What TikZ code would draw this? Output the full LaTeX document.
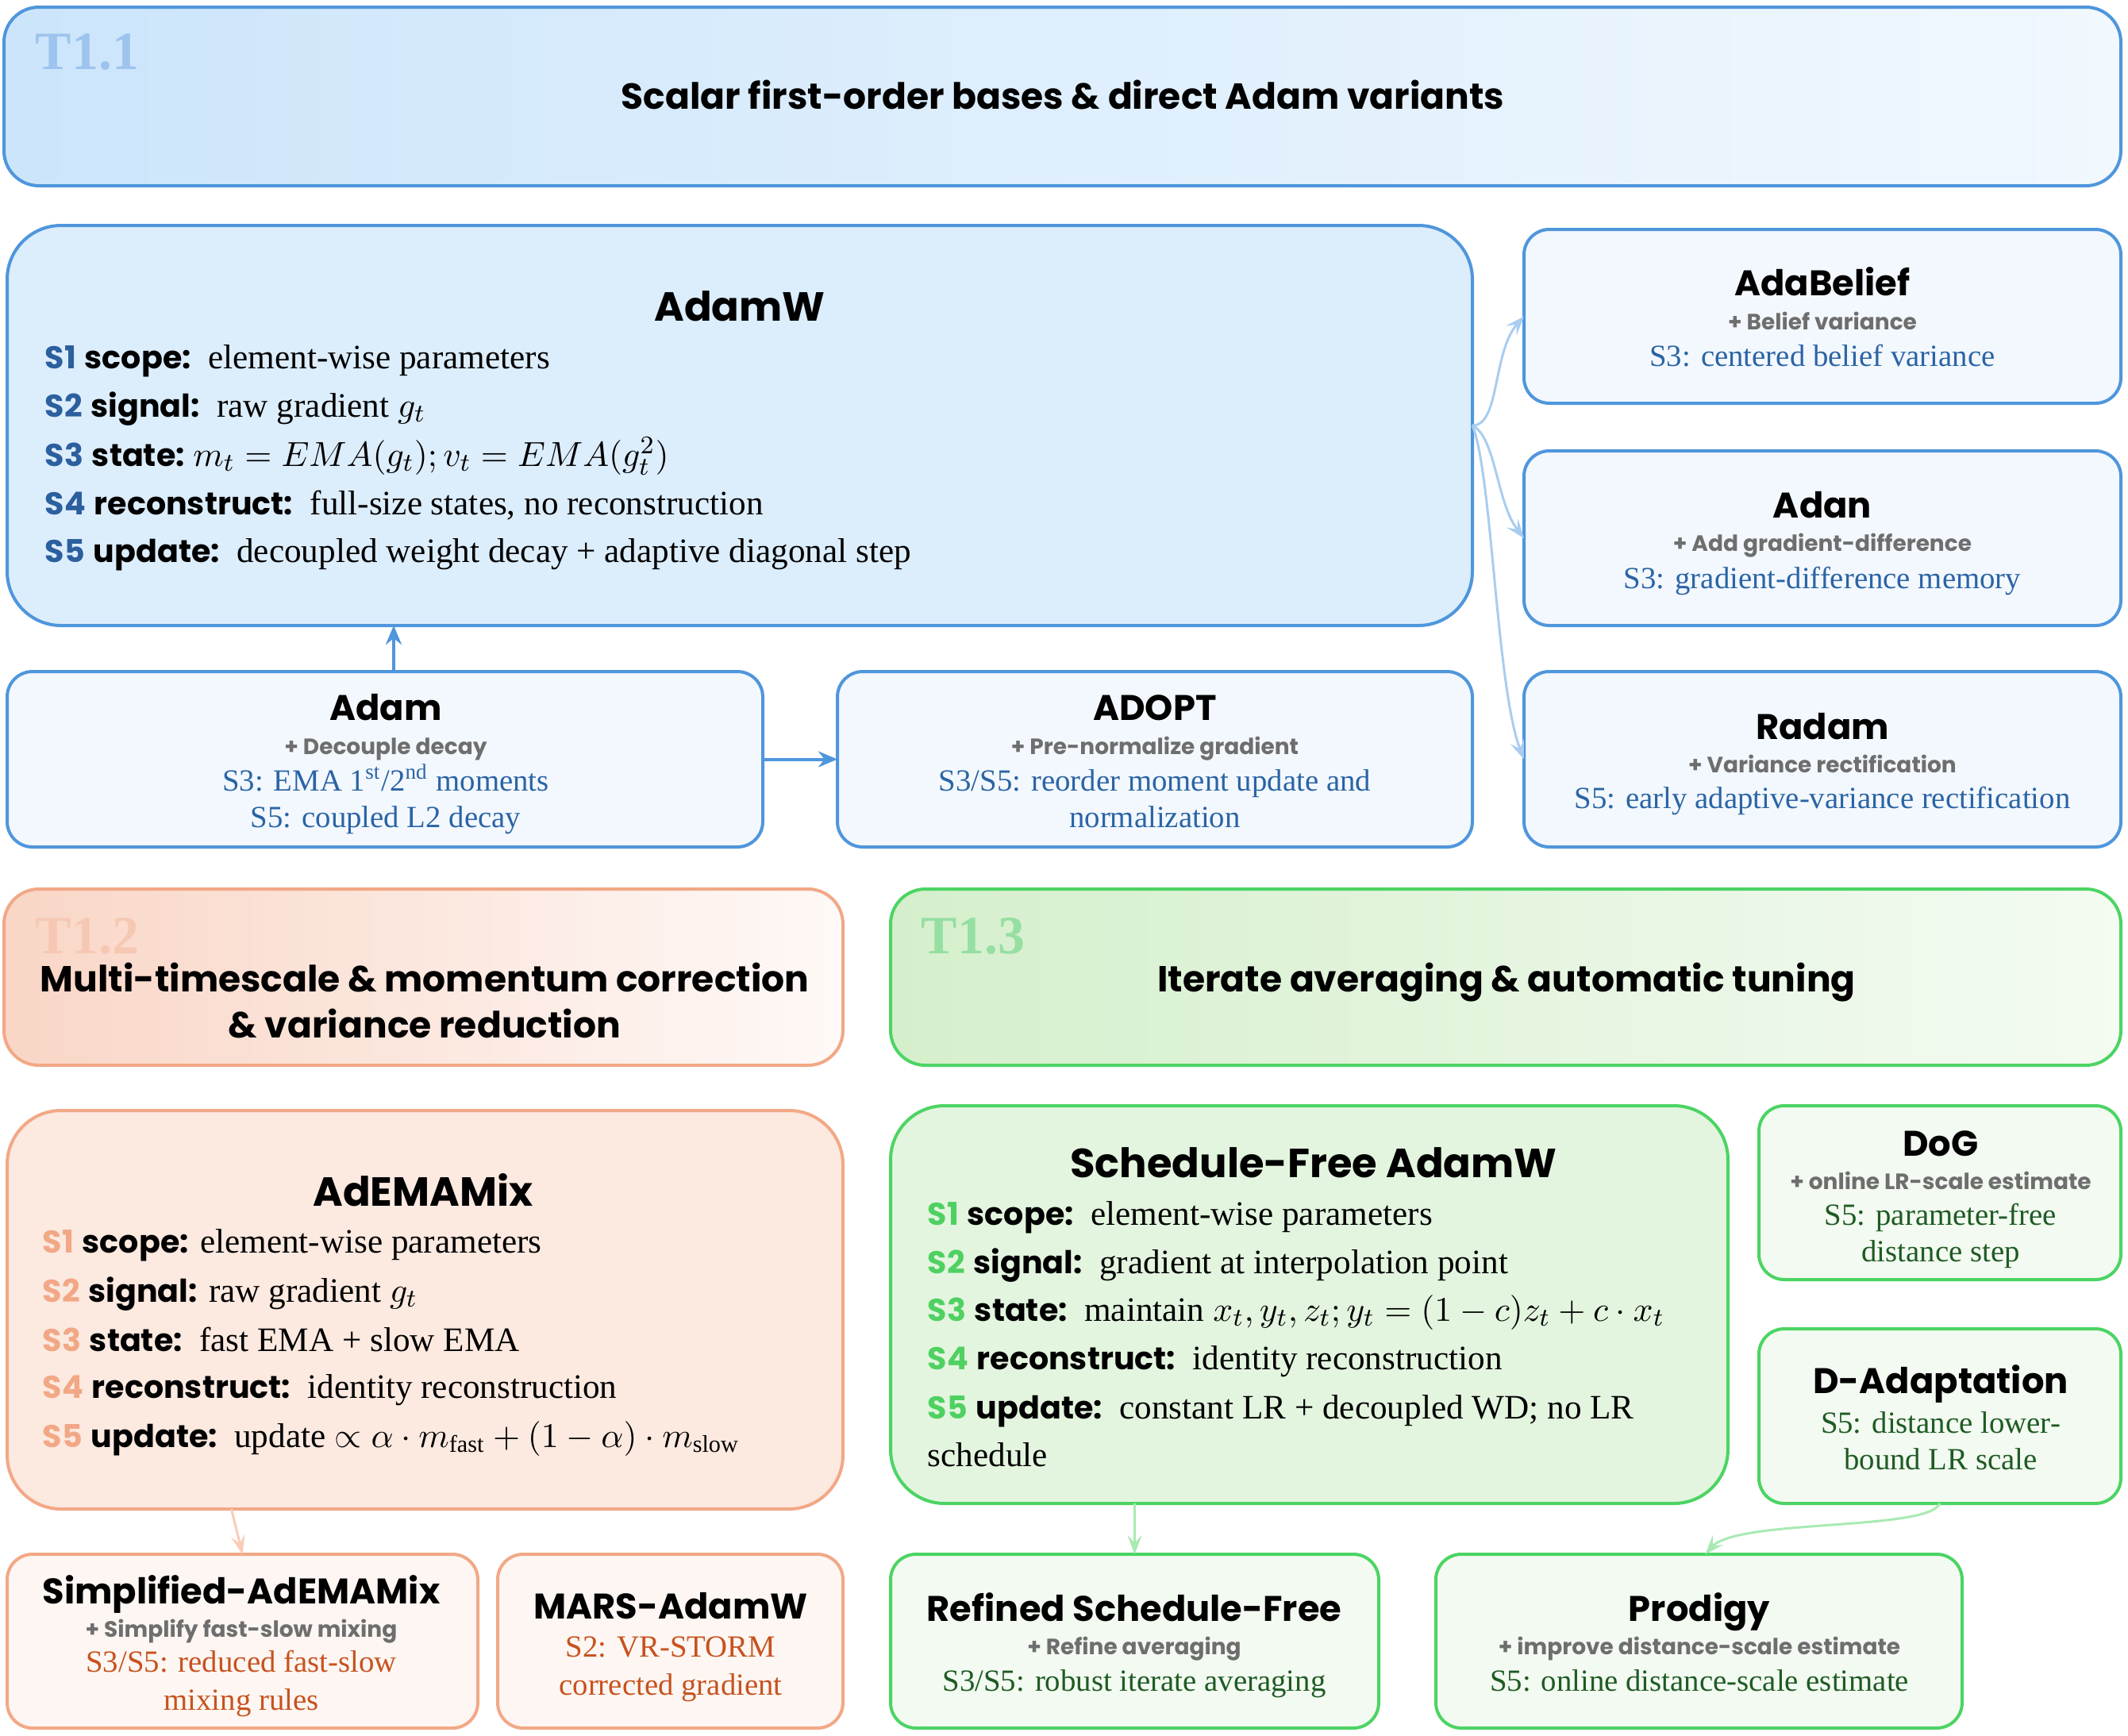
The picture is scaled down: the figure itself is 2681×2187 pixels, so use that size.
\documentclass[tikz,border=0pt]{standalone}
\usepackage{fontspec}
\setmainfont{Liberation Serif}
\newfontfamily\hand{Poppins}
\usetikzlibrary{arrows.meta}
\definecolor{bBord}{HTML}{4F96DC}
\definecolor{bFillA}{HTML}{DCEDFC}
\definecolor{bFillS}{HTML}{F3F8FE}
\definecolor{bGradL}{HTML}{CCE5FB}
\definecolor{bGradR}{HTML}{F1F8FE}
\definecolor{bText}{HTML}{2A64A5}
\definecolor{bS}{HTML}{2B5F9E}
\definecolor{bLab}{HTML}{9DC4EE}
\definecolor{bArr}{HTML}{A9CDEF}
\definecolor{oBord}{HTML}{F2A886}
\definecolor{oFillA}{HTML}{FCE9E0}
\definecolor{oFillS}{HTML}{FDF6F2}
\definecolor{oGradL}{HTML}{F9D6C6}
\definecolor{oGradR}{HTML}{FEF9F7}
\definecolor{oText}{HTML}{C7521E}
\definecolor{oS}{HTML}{F2A785}
\definecolor{oLab}{HTML}{F6C8B3}
\definecolor{oArr}{HTML}{F9CDB8}
\definecolor{gBord}{HTML}{4CD463}
\definecolor{gFillA}{HTML}{E3F5DF}
\definecolor{gFillS}{HTML}{F3FAF1}
\definecolor{gGradL}{HTML}{D5EFCC}
\definecolor{gGradR}{HTML}{F4FBF2}
\definecolor{gText}{HTML}{1E5B24}
\definecolor{gS}{HTML}{4FD161}
\definecolor{gLab}{HTML}{95DFA2}
\definecolor{gArr}{HTML}{A8EAB3}
\definecolor{subGray}{HTML}{6E6E6E}
\newcommand\mkbox[6]{\node[#6, minimum width={(#4-#2)*0.25pt}, minimum height={(#5-#3)*0.25pt}] (#1) at ({(#2+#4)/2},{(#3+#5)/2}) {};}
\newcommand\hS[2]{{\hand\bfseries\fontsize{9.9}{11}\selectfont\color{#1}#2}}
\newcommand\kw[1]{{\hand\bfseries\fontsize{9.9}{11}\selectfont #1}}
\tikzset{
  box/.style={draw, line width=1pt, inner sep=0pt, outer sep=0pt, rectangle},
  rbig/.style={box, rounded corners=17pt},
  rsm/.style={box, rounded corners=8pt},
  rtop/.style={box, rounded corners=11pt},
  tlab/.style={font=\bfseries\fontsize{17}{20}\selectfont, anchor=mid west, inner sep=0pt, yshift=-3pt},
  ttl/.style={font=\hand\bfseries\fontsize{11.4}{13}\selectfont, anchor=mid, inner sep=0pt, yshift=-1.75pt},
  bigt/.style={font=\hand\bfseries\fontsize{12.8}{15}\selectfont, anchor=mid, inner sep=0pt, yshift=-2.5pt},
  smt/.style={font=\hand\bfseries\fontsize{11.2}{13}\selectfont, anchor=mid, inner sep=0pt, yshift=-1.75pt},
  sub/.style={font=\hand\bfseries\fontsize{7}{9}\selectfont, text=subGray, anchor=mid, inner sep=0pt, yshift=-0.4pt},
  bline/.style={font=\fontsize{10.8}{13}\selectfont, anchor=mid west, inner sep=0pt, yshift=-1.25pt, text height=7pt, text depth=2pt},
  sline/.style={font=\fontsize{9.7}{12}\selectfont, anchor=mid, inner sep=0pt, yshift=-1pt},
  arB/.style={draw=bBord, line width=1pt, -{Stealth[length=6pt,width=5pt]}},
  arL/.style={line width=0.75pt, -{Stealth[length=6pt,width=4.5pt,inset=2.5pt]}},
}
\begin{document}
\begin{tikzpicture}[x=0.25pt,y=-0.25pt]
\path[use as bounding box, fill=white] (0,0) rectangle (2681,2187);
% ---------- T1.1 ----------
\mkbox{t11}{5}{9}{2672}{234}{rtop, draw=bBord, left color=bGradL, right color=bGradR}
\node[tlab, text=bLab] (t11lab) at (44,66) {T1.1};
\node[ttl] (t11ttl) at (1339,121) {Scalar first-order bases \& direct Adam variants};
% AdamW
\mkbox{adamw}{9}{284}{1855}{788}{rbig, draw=bBord, fill=bFillA}
\node[bigt] (adamwT) at (932,385) {AdamW};
\node[bline] (aw1) at (56,450) {\hS{bS}{S1} \kw{scope:}\ \ element-wise parameters};
\node[bline] (aw2) at (56,511) {\hS{bS}{S2} \kw{signal:}\ \ raw gradient $g_t$};
\node[bline] (aw3) at (56,573) {\hS{bS}{S3} \kw{state:}\ $m_t = EMA(g_t); v_t = EMA(g_t^2)$};
\node[bline] (aw4) at (56,634) {\hS{bS}{S4} \kw{reconstruct:}\ \ full-size states, no reconstruction};
\node[bline] (aw5) at (56,694) {\hS{bS}{S5} \kw{update:}\ \ decoupled weight decay + adaptive diagonal step};
% AdaBelief
\mkbox{adabelief}{1920}{289}{2672}{508}{rsm, draw=bBord, fill=bFillS}
\node[smt] (abT) at (2296,356) {AdaBelief};
\node[sub] (abS) at (2296,405) {+ Belief variance};
\node[sline, text=bText] (abL) at (2296,448) {S3: centered belief variance};
% Adan
\mkbox{adan}{1920}{568}{2672}{788}{rsm, draw=bBord, fill=bFillS}
\node[smt] (adT) at (2296,636) {Adan};
\node[sub] (adS) at (2296,684) {+ Add gradient-difference};
\node[sline, text=bText] (adL) at (2296,728) {S3: gradient-difference memory};
% Radam
\mkbox{radam}{1920}{846}{2672}{1067}{rsm, draw=bBord, fill=bFillS}
\node[smt] (raT) at (2296,915) {Radam};
\node[sub] (raS) at (2296,963) {+ Variance rectification};
\node[sline, text=bText] (raL) at (2296,1005) {S5: early adaptive-variance rectification};
% Adam
\mkbox{adam}{9}{846}{961}{1067}{rsm, draw=bBord, fill=bFillS}
\node[smt] (amT) at (486,891) {Adam};
\node[sub] (amS) at (486,940) {+ Decouple decay};
\node[sline, text=bText] (amL1) at (486,983) {S3: EMA 1\textsuperscript{st}/2\textsuperscript{nd} moments};
\node[sline, text=bText] (amL2) at (486,1029) {S5: coupled L2 decay};
% ADOPT
\mkbox{adopt}{1055}{846}{1855}{1067}{rsm, draw=bBord, fill=bFillS}
\node[smt] (aoT) at (1455,891) {ADOPT};
\node[sub] (aoS) at (1455,940) {+ Pre-normalize gradient};
\node[sline, text=bText] (aoL1) at (1455,983) {S3/S5: reorder moment update and};
\node[sline, text=bText] (aoL2) at (1455,1029) {normalization};
% ---------- T1.2 ----------
\mkbox{t12}{5}{1120}{1062}{1342}{rtop, draw=oBord, left color=oGradL, right color=oGradR}
\node[tlab, text=oLab] (t12lab) at (44,1180) {T1.2};
\node[ttl] (t12a) at (535,1233) {Multi-timescale \& momentum correction};
\node[ttl] (t12b) at (535,1291) {\& variance reduction};
% AdEMAMix
\mkbox{ademamix}{9}{1399}{1062}{1901}{rbig, draw=oBord, fill=oFillA}
\node[bigt] (emT) at (533,1500) {AdEMAMix};
\node[bline] (em1) at (53,1564) {\hS{oS}{S1} \kw{scope:} element-wise parameters};
\node[bline] (em2) at (53,1626) {\hS{oS}{S2} \kw{signal:} raw gradient $g_t$};
\node[bline] (em3) at (53,1688) {\hS{oS}{S3} \kw{state:}\ \ fast EMA + slow EMA};
\node[bline] (em4) at (53,1747) {\hS{oS}{S4} \kw{reconstruct:}\ \ identity reconstruction};
\node[bline] (em5) at (53,1809) {\hS{oS}{S5} \kw{update:}\ \ update $\propto \alpha\cdot m_{\mathrm{fast}} + (1-\alpha)\cdot m_{\mathrm{slow}}$};
% Simplified-AdEMAMix
\mkbox{simp}{9}{1958}{602}{2177}{rsm, draw=oBord, fill=oFillS}
\node[smt] (siT) at (304,2004) {Simplified-AdEMAMix};
\node[sub] (siS) at (304,2052) {+ Simplify fast-slow mixing};
\node[sline, text=oText] (siL1) at (304,2093) {S3/S5: reduced fast-slow};
\node[sline, text=oText] (siL2) at (304,2141) {mixing rules};
% MARS-AdamW
\mkbox{mars}{627}{1958}{1062}{2177}{rsm, draw=oBord, fill=oFillS}
\node[smt] (maT) at (845,2023) {MARS-AdamW};
\node[sline, text=oText] (maL1) at (845,2074) {S2: VR-STORM};
\node[sline, text=oText] (maL2) at (845,2122) {corrected gradient};
% ---------- T1.3 ----------
\mkbox{t13}{1122}{1120}{2672}{1342}{rtop, draw=gBord, left color=gGradL, right color=gGradR}
\node[tlab, text=gLab] (t13lab) at (1160,1180) {T1.3};
\node[ttl] (t13ttl) at (1898,1233) {Iterate averaging \& automatic tuning};
% Schedule-Free AdamW
\mkbox{sf}{1122}{1393}{2177}{1894}{rbig, draw=gBord, fill=gFillA}
\node[bigt] (sfT) at (1655,1464) {Schedule-Free AdamW};
\node[bline] (sf1) at (1168,1529) {\hS{gS}{S1} \kw{scope:}\ \ element-wise parameters};
\node[bline] (sf2) at (1168,1590) {\hS{gS}{S2} \kw{signal:}\ \ gradient at interpolation point};
\node[bline] (sf3) at (1168,1650) {\hS{gS}{S3} \kw{state:}\ \ maintain $x_t, y_t, z_t; y_t = (1-c)z_t + c\cdot x_t$};
\node[bline] (sf4) at (1168,1711) {\hS{gS}{S4} \kw{reconstruct:}\ \ identity reconstruction};
\node[bline] (sf5) at (1168,1773) {\hS{gS}{S5} \kw{update:}\ \ constant LR + decoupled WD; no LR};
\node[bline] (sf6) at (1168,1833) {schedule};
% DoG
\mkbox{dog}{2216}{1393}{2672}{1612}{rsm, draw=gBord, fill=gFillS}
\node[smt] (dgT) at (2445,1440) {DoG};
\node[sub] (dgS) at (2445,1488) {+ online LR-scale estimate};
\node[sline, text=gText] (dgL1) at (2445,1530) {S5: parameter-free};
\node[sline, text=gText] (dgL2) at (2445,1576) {distance step};
% D-Adaptation
\mkbox{dadapt}{2216}{1674}{2672}{1894}{rsm, draw=gBord, fill=gFillS}
\node[smt] (daT) at (2445,1739) {D-Adaptation};
\node[sline, text=gText] (daL1) at (2445,1792) {S5: distance lower-};
\node[sline, text=gText] (daL2) at (2445,1838) {bound LR scale};
% Refined Schedule-Free
\mkbox{refined}{1122}{1958}{1737}{2177}{rsm, draw=gBord, fill=gFillS}
\node[smt] (rfT) at (1429,2026) {Refined Schedule-Free};
\node[sub] (rfS) at (1429,2074) {+ Refine averaging};
\node[sline, text=gText] (rfL) at (1429,2117) {S3/S5: robust iterate averaging};
% Prodigy
\mkbox{prodigy}{1809}{1958}{2472}{2177}{rsm, draw=gBord, fill=gFillS}
\node[smt] (prT) at (2141,2026) {Prodigy};
\node[sub] (prS) at (2141,2074) {+ improve distance-scale estimate};
\node[sline, text=gText] (prL) at (2141,2117) {S5: online distance-scale estimate};
% ---------- connectors ----------
\coordinate (aup) at ([xshift=2.75pt]adam.north);
\draw[arB] (aup) -- (aup |- adamw.south);
\draw[arB] (adam.east) -- (adopt.west);
\draw[arL, draw=bArr] (adamw.east) .. controls +(35,0) and +(-40,45) .. (adabelief.west);
\draw[arL, draw=bArr] (adamw.east) .. controls +(30,15) and +(-35,-45) .. (adan.west);
\draw[arL, draw=bArr] (adamw.east) .. controls +(25,60) and +(-35,-90) .. (radam.west);
\coordinate (emdn) at ([xshift=-61pt]ademamix.south);
\draw[arL, draw=oArr] (emdn) -- (simp.north);
\draw[arL, draw=gArr] (refined.north |- sf.south) -- (refined.north);
\coordinate (prin) at ([xshift=2pt]prodigy.north);
\draw[arL, draw=gArr] (dadapt.south) .. controls +(-15,35) and +(40,-45) .. (prin);
\end{tikzpicture}
\end{document}
